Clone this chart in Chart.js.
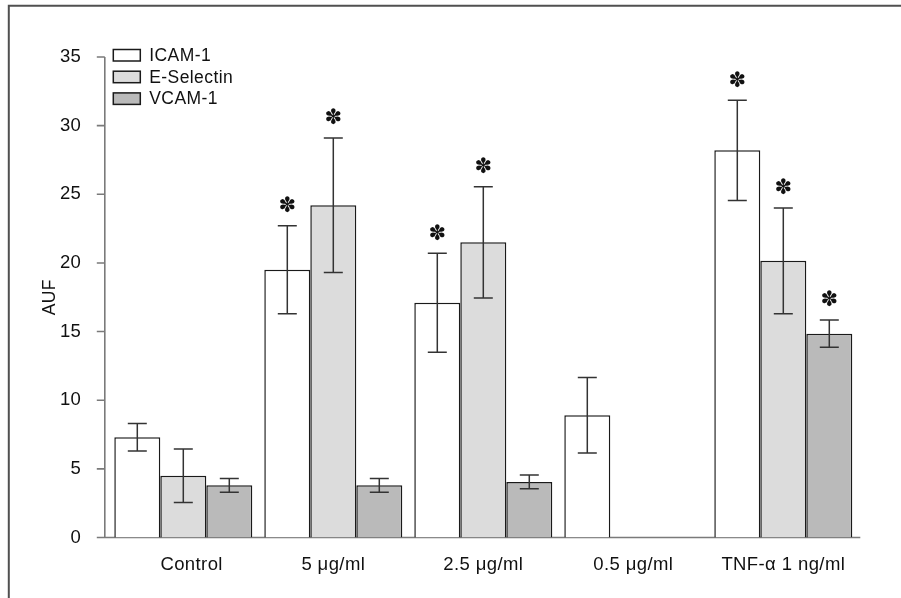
<!DOCTYPE html>
<html>
<head>
<meta charset="utf-8">
<script src="https://cdn.jsdelivr.net/npm/chart.js@4.4.0/dist/chart.umd.min.js"></script>
<style>
  html, body { margin: 0; padding: 0; background: #fff; }
</style>
</head>
<body>
<canvas id="chart" width="901" height="598"></canvas>
<script>
/* AUF of adhesion molecules (ICAM-1, E-Selectin, VCAM-1) per treatment, mean ± error, * = significant */

var categories = ['Control', '5 μg/ml', '2.5 μg/ml', '0.5 μg/ml', 'TNF-α 1 ng/ml'];
var seriesNames = ['ICAM-1', 'E-Selectin', 'VCAM-1'];

var icamValues = [7.3, 19.5, 17.1, 8.9, 28.2];
var icamErrors = [1.0, 3.2, 3.6, 2.75, 3.65];
var icamSignificant = [false, true, true, false, true];

var eSelectinValues = [4.5, 24.2, 21.5, null, 20.15];
var eSelectinErrors = [1.95, 4.9, 4.05, null, 3.85];
var eSelectinSignificant = [false, true, true, false, true];

var vcamValues = [3.8, 3.8, 4.05, null, 14.85];
var vcamErrors = [0.5, 0.5, 0.5, null, 1.0];
var vcamSignificant = [false, false, false, false, true];

var yTicks = [0, 5, 10, 15, 20, 25, 30, 35];

var FONT = '"Liberation Sans", Arial, Helvetica, sans-serif';
var FILLS = ['#ffffff', '#dcdcdc', '#bababa'];
var errorSeries = [icamErrors, eSelectinErrors, vcamErrors];
var sigSeries = [icamSignificant, eSelectinSignificant, vcamSignificant];

// axes, error bars, asterisks, legend and the figure frame
var figurePlugin = {
  id: 'figure',
  beforeDraw: function (chart) {
    chart.ctx.letterSpacing = '0.4px';
  },
  beforeDatasetsDraw: function (chart) {
    var ctx = chart.ctx, area = chart.chartArea, y = chart.scales.y;
    var axisX = area.left - 3.5;
    var y0 = y.getPixelForValue(0);
    ctx.save();
    ctx.strokeStyle = '#7a7a7a';
    ctx.lineWidth = 1.6;
    ctx.beginPath();
    ctx.moveTo(axisX, y.getPixelForValue(yTicks[yTicks.length - 1]));
    ctx.lineTo(axisX, y0);
    ctx.moveTo(axisX - 8, y0);
    ctx.lineTo(area.right + 2, y0);
    yTicks.forEach(function (v) {
      var py = y.getPixelForValue(v);
      ctx.moveTo(axisX - 8, py);
      ctx.lineTo(axisX, py);
    });
    ctx.stroke();
    ctx.restore();
  },
  afterDatasetsDraw: function (chart) {
    var ctx = chart.ctx, y = chart.scales.y;
    ctx.save();
    chart.data.datasets.forEach(function (ds, i) {
      var meta = chart.getDatasetMeta(i);
      meta.data.forEach(function (bar, j) {
        var v = ds.data[j], e = errorSeries[i][j];
        if (v === null || e === null) return;
        var top = y.getPixelForValue(v + e), bot = y.getPixelForValue(v - e);
        ctx.strokeStyle = '#333';
        ctx.lineWidth = 1.5;
        ctx.beginPath();
        ctx.moveTo(bar.x, top); ctx.lineTo(bar.x, bot);
        ctx.moveTo(bar.x - 9.5, top); ctx.lineTo(bar.x + 9.5, top);
        ctx.moveTo(bar.x - 9.5, bot); ctx.lineTo(bar.x + 9.5, bot);
        ctx.stroke();
        if (sigSeries[i][j]) {
          ctx.fillStyle = '#111';
          ctx.font = '21px "DejaVu Sans"';
          ctx.letterSpacing = '0px';
          ctx.textAlign = 'center';
          ctx.textBaseline = 'middle';
          ctx.fillText('✽', bar.x, top - 19);
        }
      });
    });
    ctx.restore();
  },
  afterDraw: function (chart) {
    var ctx = chart.ctx, area = chart.chartArea;
    ctx.save();
    // legend
    seriesNames.forEach(function (name, i) {
      var bx = area.left + 5, by = area.top - 7.5 + i * 21.7;
      ctx.fillStyle = FILLS[i];
      ctx.fillRect(bx, by, 27, 11.5);
      ctx.strokeStyle = '#1a1a1a';
      ctx.lineWidth = 1.5;
      ctx.strokeRect(bx, by, 27, 11.5);
      ctx.fillStyle = '#111';
      ctx.font = '17.5px ' + FONT;
      ctx.textAlign = 'left';
      ctx.textBaseline = 'middle';
      ctx.fillText(name, bx + 36, by + 6.5);
    });
    // frame (left and top edges of the figure box)
    ctx.strokeStyle = '#505050';
    ctx.lineWidth = 2;
    ctx.beginPath();
    ctx.moveTo(8.8, 598); ctx.lineTo(8.8, 5.7); ctx.lineTo(901, 5.7);
    ctx.stroke();
    ctx.restore();
  }
};

function makeDataset(label, values, i) {
  return {
    label: label,
    data: values,
    backgroundColor: FILLS[i],
    borderColor: '#1a1a1a',
    borderWidth: 1.5,
    barPercentage: 1.0,
    categoryPercentage: 0.92
  };
}

new Chart(document.getElementById('chart').getContext('2d'), {
  type: 'bar',
  data: {
    labels: categories,
    datasets: [
      makeDataset(seriesNames[0], icamValues, 0),
      makeDataset(seriesNames[1], eSelectinValues, 1),
      makeDataset(seriesNames[2], vcamValues, 2)
    ]
  },
  options: {
    responsive: false,
    animation: false,
    layout: { padding: { left: 8, right: 42.7, top: 57, bottom: 0 } },
    plugins: {
      legend: { display: false },
      tooltip: { enabled: false }
    },
    scales: {
      x: {
        grid: { display: false },
        border: { display: false },
        ticks: {
          color: '#111',
          font: { family: FONT, size: 18.5 },
          padding: 8,
          maxRotation: 0,
          // the Control label sits a little right of its group in the original
          callback: function (value, index) {
            var label = this.getLabelForValue(value);
            return index === 0 ? '   ' + label : label;
          }
        },
        afterFit: function (scale) { scale.height = 60.5; }
      },
      y: {
        min: 0,
        max: 35,
        grid: { display: false },
        border: { display: false },
        ticks: {
          stepSize: 5,
          color: '#111',
          font: { family: FONT, size: 18.5 },
          padding: 19
        },
        title: {
          display: true,
          text: 'AUF',
          color: '#111',
          font: { family: FONT, size: 17.5 },
          padding: { top: 32, bottom: 0 }
        },
        afterFit: function (scale) { scale.width = 100.3; }
      }
    }
  },
  plugins: [figurePlugin]
});
</script>
</body>
</html>
